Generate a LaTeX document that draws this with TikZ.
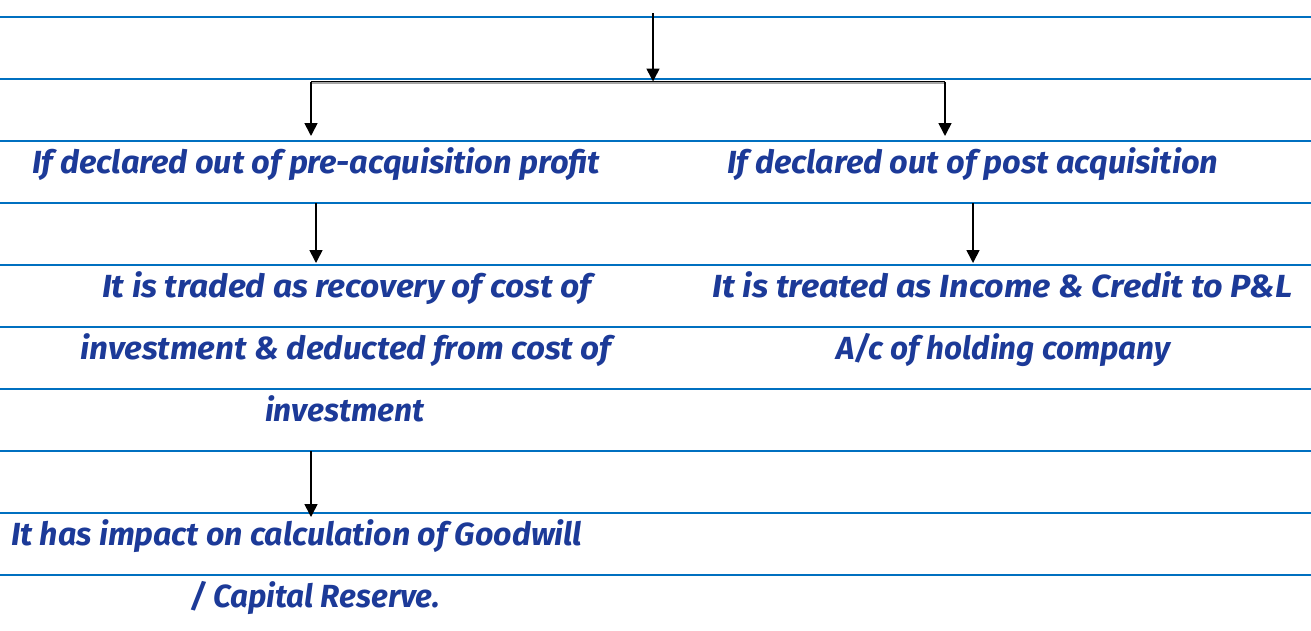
\documentclass[tikz,border=0pt]{standalone}
\usepackage{fontspec}
\setmainfont{Fira Sans}
\usetikzlibrary{arrows.meta}
\definecolor{rulecol}{RGB}{0,112,192}
\definecolor{ink}{RGB}{28,58,152}
% set a line of text to a fixed width, keeping its height
\newcommand{\fitline}[2]{\resizebox{#1pt}{\height}{#2}}
\tikzset{
  ruled/.style={draw=rulecol, line width=2pt},
  txt/.style={anchor=base west, inner sep=0pt, text=ink,
    font=\fontsize{32}{36}\selectfont\bfseries\itshape},
  flow/.style={draw=black, line width=1.6pt,
    -{Triangle[length=13pt,width=13pt]}},
  branch/.style={draw=black, line width=1.6pt},
  branchshade/.style={draw=black!35, line width=3.4pt}
}
\begin{document}
\begin{tikzpicture}[x=1pt,y=-1pt]
\useasboundingbox (0,0) rectangle (1311,630);
% ruled paper
\foreach \yy in {16.5,78.5,140.5,202.5,264.5,326.5,388.5,450.5,512.5,574.5}
  \draw[ruled] (0,\yy) -- (1311,\yy);

% texts
\node[txt] (pre)  at (32,173)  {\fitline{568}{If declared out of pre-acquisition profit}};
\node[txt] (post) at (727,173) {\fitline{491}{If declared out of post acquisition}};
\node[txt] (rec1) at (102,297) {\fitline{489}{It is traded as recovery of cost of}};
\node[txt] (rec2) at (80,359)  {\fitline{531}{investment \& deducted from cost of}};
\node[txt] (rec3) at (265,421) {\fitline{159}{investment}};
\node[txt] (inc1) at (712,297) {\fitline{580}{It is treated as Income \& Credit to P\&L}};
\node[txt] (inc2) at (836,359) {\fitline{334}{A/c of holding company}};
\node[txt] (gw1)  at (11,545)  {\fitline{571}{It has impact on calculation of Goodwill}};
\node[txt] (gw2)  at (190,607) {\fitline{250}{/ Capital Reserve.}};

% connector points
\coordinate (top)   at (653,13);
\coordinate (mid)   at (653,81.5);
\coordinate (bl)    at (311,81.5);
\coordinate (br)    at (945,81.5);
\coordinate (preIn) at (311,136);
\coordinate (postIn) at (945,136);
\coordinate (preOut) at (316,203);
\coordinate (recIn)  at (316,263);
\coordinate (postOut) at (973,203);
\coordinate (incIn)   at (973,263);
\coordinate (recOut)  at (311,451);
\coordinate (gwIn)    at (311,517);

% branching bar
\draw[branchshade] ([yshift=-1pt]bl) -- ([yshift=-1pt]br);
\draw[branch] (bl) -- (br);
\draw[flow] (top) -- (mid);
\draw[flow] (bl) -- (preIn);
\draw[flow] (br) -- (postIn);
\draw[flow] (preOut) -- (recIn);
\draw[flow] (postOut) -- (incIn);
\draw[flow] (recOut) -- (gwIn);
\end{tikzpicture}
\end{document}
